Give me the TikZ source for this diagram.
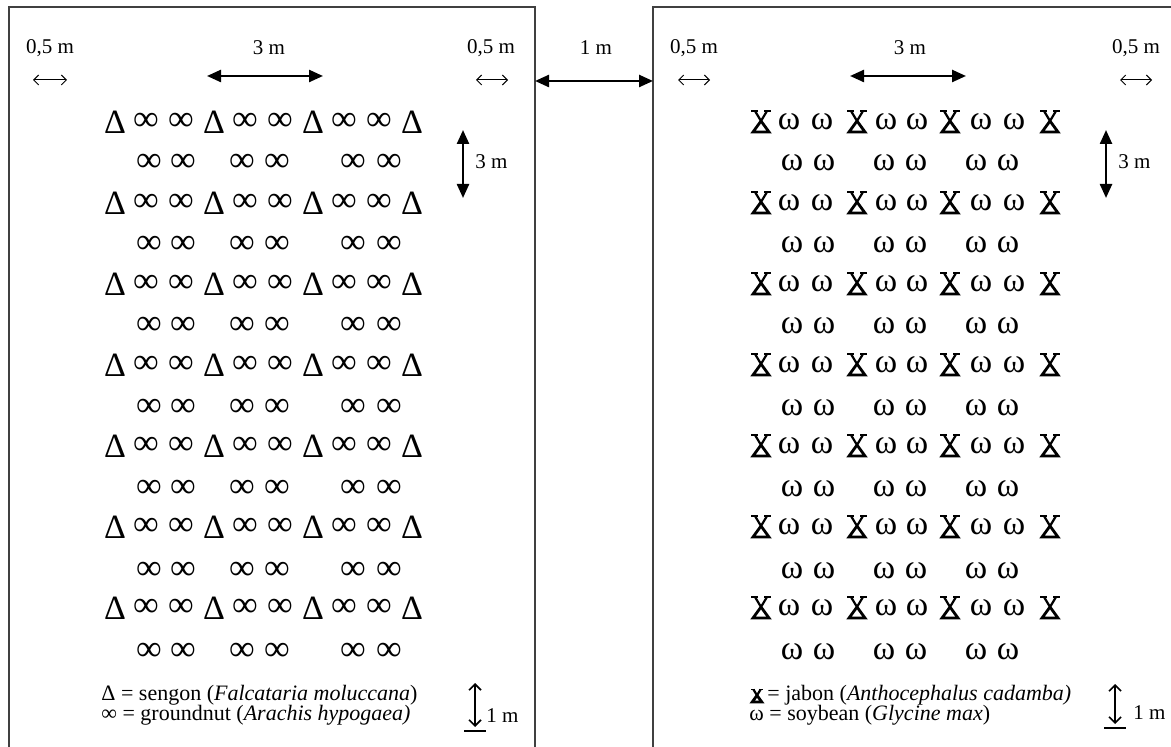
\documentclass[tikz,border=0pt]{standalone}
\usepackage{fontspec}
\setmainfont{Liberation Serif}
\usetikzlibrary{arrows.meta}

\begin{document}
\begin{tikzpicture}[x=0.5pt, y=-0.5pt,
   plotline/.style={draw=black!75, line width=1pt},
   lbl/.style={font=\fontsize{10.5}{12}\selectfont, inner sep=0pt},
   tree/.style={font=\fontsize{17}{17}\selectfont, inner sep=0pt},
   crop/.style={font=\fontsize{18}{18}\selectfont, inner sep=0pt},
   bean/.style={font=\fontsize{17}{17}\selectfont, inner sep=0pt},
   legend/.style={font=\fontsize{11}{13}\selectfont, inner sep=0pt, anchor=west},
   span/.style={line width=1.2pt, {Triangle[length=7pt,width=6pt]}-{Triangle[length=7pt,width=6pt]}},
   gap/.style={line width=0.5pt, {Straight Barb[length=2.5pt,width=5pt]}-{Straight Barb[length=2.5pt,width=5pt]}},
   rowgap/.style={line width=0.8pt, {Straight Barb[length=3pt,width=6pt]}-{Straight Barb[length=3pt,width=6pt]}},
   pics/jabon/.style={code={
     \draw[line width=1.4pt, line join=miter] (-8,10) -- (8,10) -- (0,-1) -- cycle;
     \draw[line width=1.1pt] (0,-1) -- (-6,-11) (0,-1) -- (6,-11);
     \draw[line width=0.8pt] (-10,-11) -- (-3,-11) (3,-11) -- (10,-11);
   }}]
  \useasboundingbox (0,0) rectangle (1171,747);

  % plot borders (cut at the bottom)
  \draw[plotline] (9,747) -- (9,7) -- (535,7) -- (535,747);
  \draw[plotline] (653,747) -- (653,7) -- (1171,7);

  % sengon + groundnut
  \foreach \k in {0,...,6}{
    \pgfmathsetmacro{\ya}{122+81*\k}
    \pgfmathsetmacro{\yb}{163+81.5*\k}
    \foreach \x [count=\c] in {115,214,313,412}
      \node[tree] (sg-\k-\c) at (\x,\ya) {Δ};
    \foreach \x [count=\c] in {146,181,245,280,344,379}
      \node[crop] (gn-\k-\c) at (\x,\ya) {∞};
    \foreach \x [count=\c] in {149,183,242,277,353,389}
      \node[crop] (gm-\k-\c) at (\x,\yb) {∞};
  }

  % jabon + soybean
  \foreach \k in {0,...,6}{
    \pgfmathsetmacro{\ya}{122+81*\k}
    \pgfmathsetmacro{\yb}{163+81.5*\k}
    \foreach \x [count=\c] in {761,857,950,1050}
      \pic (jb-\k-\c) at (\x,\ya) {jabon};
    \foreach \x [count=\c] in {789,822,886,917,981,1014}
      \node[bean] (sb-\k-\c) at (\x,\ya) {ω};
    \foreach \x [count=\c] in {792,824,884,916,976,1008}
      \node[bean] (sm-\k-\c) at (\x,\yb) {ω};
  }

  % top dimensions
  \node[lbl] (l05a) at (50,48) {0,5 m};
  \node[lbl] (l3a) at (269,48) {3 m};
  \node[lbl] (l05b) at (491,48) {0,5 m};
  \node[lbl] (l1) at (596,48) {1 m};
  \node[lbl] (r05a) at (694,48) {0,5 m};
  \node[lbl] (r3a) at (910,48) {3 m};
  \node[lbl] (r05b) at (1136,48) {0,5 m};
  \coordinate (la1) at (33,80);   \coordinate (la2) at (67,80);
  \coordinate (lb1) at (207,76);  \coordinate (lb2) at (323,76);
  \coordinate (lc1) at (476,80);  \coordinate (lc2) at (508,80);
  \coordinate (md1) at (535,81);  \coordinate (md2) at (653,81);
  \coordinate (ra1) at (678,80);  \coordinate (ra2) at (710,80);
  \coordinate (rb1) at (850,76);  \coordinate (rb2) at (966,76);
  \coordinate (rc1) at (1120,80); \coordinate (rc2) at (1152,80);
  \draw[gap] (la1) -- (la2);
  \draw[span] (lb1) -- (lb2);
  \draw[gap] (lc1) -- (lc2);
  \draw[span] (md1) -- (md2);
  \draw[gap] (ra1) -- (ra2);
  \draw[span] (rb1) -- (rb2);
  \draw[gap] (rc1) -- (rc2);

  % row spacing
  \coordinate (lv1) at (463,130);  \coordinate (lv2) at (463,198);
  \coordinate (rv1) at (1106,130); \coordinate (rv2) at (1106,198);
  \draw[span] (lv1) -- (lv2);
  \draw[span] (rv1) -- (rv2);
  \node[lbl, anchor=west] (l3b) at (475,162) {3 m};
  \node[lbl, anchor=west] (r3b) at (1118,162) {3 m};

  % 1 m markers
  \coordinate (lw1) at (475,683);  \coordinate (lw2) at (475,727);
  \coordinate (lu1) at (464,731);  \coordinate (lu2) at (486,731);
  \coordinate (rw1) at (1115,684); \coordinate (rw2) at (1115,724);
  \coordinate (ru1) at (1104,728); \coordinate (ru2) at (1126,728);
  \draw[rowgap] (lw1) -- (lw2);
  \draw[rowgap] (rw1) -- (rw2);
  \draw[line width=1pt] (lu1) -- (lu2);
  \draw[line width=1pt] (ru1) -- (ru2);
  \node[lbl, anchor=west] (l1b) at (486,716) {1 m};
  \node[lbl, anchor=west] (r1b) at (1133,713) {1 m};

  % legends
  \node[legend] (lg1) at (101,695) {Δ = sengon (\textit{Falcataria moluccana})};
  \node[legend] (lg2) at (101,715) {∞ = groundnut (\textit{Arachis hypogaea)}};
  \pic[scale=0.6] (lgj) at (757,696) {jabon};
  \node[legend] (rg1) at (767,695) {= jabon (\textit{Anthocephalus cadamba)}};
  \node[legend] (rg2) at (749,715) {ω = soybean (\textit{Glycine max})};
\end{tikzpicture}
\end{document}
